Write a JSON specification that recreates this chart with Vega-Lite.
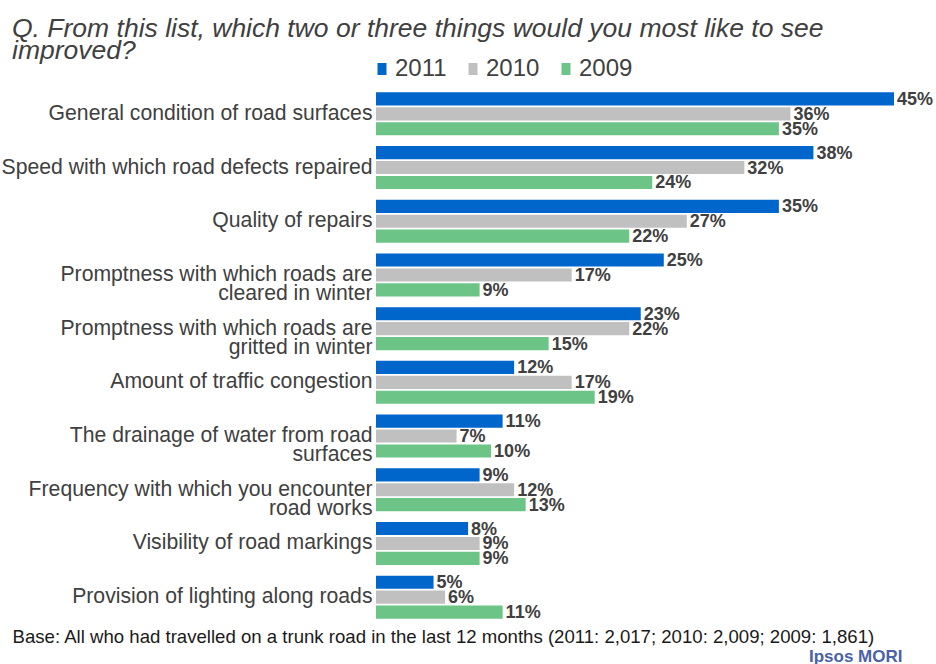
{
  "$schema": "https://vega.github.io/schema/vega-lite/v6.json",
  "width": 518,
  "height": 537,
  "autosize": {"type": "none"},
  "padding": {"left": 376, "top": 87, "right": 42, "bottom": 40},
  "background": "white",
  "title": {
    "text": ["Q. From this list, which two or three things would you most like to see", "improved?"],
    "anchor": "start",
    "frame": "group",
    "dx": -364,
    "offset": -7,
    "font": "Liberation Sans",
    "fontSize": 26.5,
    "fontStyle": "italic",
    "fontWeight": "normal",
    "color": "#404040",
    "lineHeight": 22
  },
  "data": {
    "values": [
      {"cat": "General condition of road surfaces", "year": "2011", "value": 45},
      {"cat": "General condition of road surfaces", "year": "2010", "value": 36},
      {"cat": "General condition of road surfaces", "year": "2009", "value": 35},
      {"cat": "Speed with which road defects repaired", "year": "2011", "value": 38},
      {"cat": "Speed with which road defects repaired", "year": "2010", "value": 32},
      {"cat": "Speed with which road defects repaired", "year": "2009", "value": 24},
      {"cat": "Quality of repairs", "year": "2011", "value": 35},
      {"cat": "Quality of repairs", "year": "2010", "value": 27},
      {"cat": "Quality of repairs", "year": "2009", "value": 22},
      {"cat": "Promptness with which roads are|cleared in winter", "year": "2011", "value": 25},
      {"cat": "Promptness with which roads are|cleared in winter", "year": "2010", "value": 17},
      {"cat": "Promptness with which roads are|cleared in winter", "year": "2009", "value": 9},
      {"cat": "Promptness with which roads are|gritted in winter", "year": "2011", "value": 23},
      {"cat": "Promptness with which roads are|gritted in winter", "year": "2010", "value": 22},
      {"cat": "Promptness with which roads are|gritted in winter", "year": "2009", "value": 15},
      {"cat": "Amount of traffic congestion", "year": "2011", "value": 12},
      {"cat": "Amount of traffic congestion", "year": "2010", "value": 17},
      {"cat": "Amount of traffic congestion", "year": "2009", "value": 19},
      {"cat": "The drainage of water from road|surfaces", "year": "2011", "value": 11},
      {"cat": "The drainage of water from road|surfaces", "year": "2010", "value": 7},
      {"cat": "The drainage of water from road|surfaces", "year": "2009", "value": 10},
      {"cat": "Frequency with which you encounter|road works", "year": "2011", "value": 9},
      {"cat": "Frequency with which you encounter|road works", "year": "2010", "value": 12},
      {"cat": "Frequency with which you encounter|road works", "year": "2009", "value": 13},
      {"cat": "Visibility of road markings", "year": "2011", "value": 8},
      {"cat": "Visibility of road markings", "year": "2010", "value": 9},
      {"cat": "Visibility of road markings", "year": "2009", "value": 9},
      {"cat": "Provision of lighting along roads", "year": "2011", "value": 5},
      {"cat": "Provision of lighting along roads", "year": "2010", "value": 6},
      {"cat": "Provision of lighting along roads", "year": "2009", "value": 11}
    ]
  },
  "encoding": {
    "y": {
      "field": "cat",
      "type": "nominal",
      "sort": null,
      "scale": {"paddingInner": 0.2, "paddingOuter": 0.1},
      "axis": {
        "title": null,
        "domain": false,
        "ticks": false,
        "labelPadding": 4,
        "labelFont": "Liberation Sans",
        "labelFontSize": 21.2,
        "labelColor": "#404040",
        "labelLimit": 0,
        "labelLineHeight": 19,
        "labelExpr": "split(datum.label, '|')"
      }
    },
    "yOffset": {
      "field": "year",
      "type": "nominal",
      "sort": ["2011", "2010", "2009"],
      "scale": {"paddingInner": 0.12, "paddingOuter": 0}
    }
  },
  "layer": [
    {
      "mark": {"type": "bar"},
      "encoding": {
        "x": {
          "field": "value",
          "type": "quantitative",
          "scale": {"domain": [0, 45], "nice": false},
          "axis": {
            "orient": "bottom",
            "domain": false,
            "ticks": false,
            "labels": false,
            "grid": false,
            "title": "Base: All who had travelled on a trunk road in the last 12 months (2011: 2,017; 2010: 2,009; 2009: 1,861)",
            "titleX": -364,
            "titleY": 18,
            "titleAlign": "left",
            "titleAnchor": null,
            "titleBaseline": "alphabetic",
            "titleFont": "Liberation Sans",
            "titleFontSize": 18.6,
            "titleFontWeight": "normal",
            "titleColor": "#1a1a1a"
          }
        },
        "color": {
          "field": "year",
          "type": "nominal",
          "sort": ["2011", "2010", "2009"],
          "scale": {"domain": ["2011", "2010", "2009"], "range": ["#0066CC", "#C0C0C0", "#6CC586"]},
          "legend": {
            "orient": "none",
            "legendX": -6,
            "legendY": -30,
            "direction": "horizontal",
            "title": null,
            "symbolType": "M-0.75,-1H0.75V1H-0.75Z",
            "symbolSize": 144,
            "symbolStrokeWidth": 0,
            "labelFont": "Liberation Sans",
            "labelFontSize": 24,
            "labelColor": "#404040",
            "labelOffset": 1,
            "columnPadding": 14
          }
        }
      }
    },
    {
      "mark": {
        "type": "text",
        "align": "left",
        "baseline": "middle",
        "dx": 3,
        "dy": 1,
        "font": "Liberation Sans",
        "fontSize": 18,
        "fontWeight": "bold",
        "color": "#404040",
        "text": {"expr": "datum.value + '%'"}
      },
      "encoding": {
        "x": {
          "field": "value",
          "type": "quantitative",
          "axis": {
            "orient": "top",
            "domain": false,
            "ticks": false,
            "labels": false,
            "grid": false,
            "title": "Ipsos MORI",
            "titleX": 526,
            "titleY": 574,
            "titleAlign": "right",
            "titleAnchor": null,
            "titleBaseline": "alphabetic",
            "titleFont": "Liberation Sans",
            "titleFontSize": 17,
            "titleFontWeight": "bold",
            "titleColor": "#4A62A8"
          }
        },
        "detail": {"field": "year"}
      }
    }
  ],
  "resolve": {"axis": {"x": "independent"}},
  "config": {
    "view": {"stroke": null}
  }
}
